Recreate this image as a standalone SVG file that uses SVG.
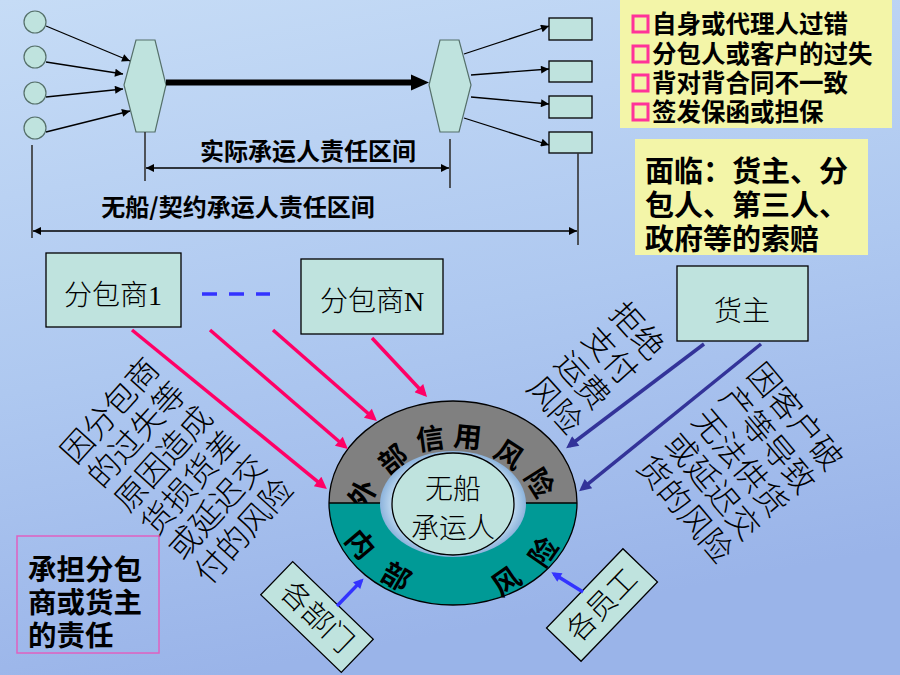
<svg xmlns="http://www.w3.org/2000/svg" width="900" height="675" viewBox="0 0 900 675">
<defs>
<linearGradient id="bg" x1="0" y1="0" x2="0.25" y2="1">
<stop offset="0" stop-color="#C6DCF6"/>
<stop offset="0.55" stop-color="#AEC8F0"/>
<stop offset="1" stop-color="#9AB4E9"/>
</linearGradient>
<radialGradient id="hole" cx="0.5" cy="0.5" r="0.5">
<stop offset="0.75" stop-color="#D8ECFA"/>
<stop offset="1" stop-color="#8CB3DC"/>
</radialGradient>
<marker id="ah" viewBox="0 0 10 10" refX="10" refY="5" markerUnits="userSpaceOnUse" markerWidth="10" markerHeight="8" orient="auto-start-reverse"><path d="M0,0L10,5L0,10z" fill="#000"/></marker>
<marker id="ahPink" viewBox="0 0 10 10" refX="7" refY="5" markerUnits="userSpaceOnUse" markerWidth="16" markerHeight="12" orient="auto"><path d="M0,0L10,5L0,10z" fill="#FF0066"/></marker>
<marker id="ahNavy" viewBox="0 0 10 10" refX="7" refY="5" markerUnits="userSpaceOnUse" markerWidth="16" markerHeight="12" orient="auto"><path d="M0,0L10,5L0,10z" fill="#333399"/></marker>
<marker id="ahBlue" viewBox="0 0 10 10" refX="7" refY="5" markerUnits="userSpaceOnUse" markerWidth="12" markerHeight="10" orient="auto"><path d="M0,0L10,5L0,10z" fill="#3333FF"/></marker>
<style>
.hei{font-family:"Noto Sans CJK SC","Liberation Sans",sans-serif;font-weight:700;fill:#000}
.song{font-family:"Liberation Serif","Noto Sans CJK SC",serif;font-weight:300;fill:#000}
.node{fill:#BFE3DE;stroke:#000;stroke-width:1.3}
.soft{fill:#BFE3DE;stroke:#55706A;stroke-width:1.2}
.thin{stroke:#000;stroke-width:1.3;fill:none}
.ext{stroke:#333;stroke-width:1.6;fill:none}
.pink{stroke:#FF0066;stroke-width:3.5;fill:none;marker-end:url(#ahPink)}
.navy{stroke:#333399;stroke-width:3.5;fill:none;marker-end:url(#ahNavy)}
.blue{stroke:#3333FF;stroke-width:3.5;fill:none;marker-end:url(#ahBlue)}
.yellow{fill:#F3F5A8}
.c{text-anchor:middle;dominant-baseline:central}
</style>
</defs>

<rect x="0" y="0" width="900" height="675" fill="url(#bg)"/>

<!-- top flow nodes -->
<g id="sources">
<circle class="soft" cx="35" cy="22" r="11"/>
<circle class="soft" cx="35" cy="57" r="11"/>
<circle class="soft" cx="35" cy="93" r="11"/>
<circle class="soft" cx="35" cy="128" r="11"/>
</g>
<g id="hex-left"><polygon class="soft" points="136,40 155,40 166,85 155,132 136,132 124,85"/></g>
<g id="hex-right"><polygon class="soft" points="440,40 459,40 471,85 459,132 440,132 429,85"/></g>
<g id="targets">
<rect class="node" x="549" y="18" width="43" height="22"/>
<rect class="node" x="549" y="61" width="43" height="21"/>
<rect class="node" x="549" y="96" width="43" height="22"/>
<rect class="node" x="549" y="132" width="43" height="21"/>
</g>

<!-- dimension lines -->
<g id="dimensions">
<line class="ext" x1="145" y1="132" x2="145" y2="181"/>
<line class="ext" x1="450" y1="139" x2="450" y2="188"/>
<line class="thin" x1="146" y1="168" x2="449" y2="168" marker-start="url(#ah)" marker-end="url(#ah)"/>
<line class="ext" x1="32" y1="145" x2="32" y2="238"/>
<line class="ext" x1="578" y1="153" x2="578" y2="245"/>
<line class="thin" x1="33" y1="231" x2="577" y2="231" marker-start="url(#ah)" marker-end="url(#ah)"/>
<text class="hei" x="308" y="160" font-size="24" text-anchor="middle">实际承运人责任区间</text>
<text class="hei" x="238" y="216" font-size="24" text-anchor="middle">无船/契约承运人责任区间</text>
</g>

<!-- yellow notes -->
<g id="note-errors">
<rect class="yellow" x="620" y="0" width="272" height="128"/>
<g fill="none" stroke="#FF3399" stroke-width="3">
<rect x="633" y="16" width="15" height="16"/>
<rect x="633" y="46" width="15" height="16"/>
<rect x="633" y="75" width="15" height="16"/>
<rect x="633" y="104" width="15" height="16"/>
</g>
<text class="hei" font-size="24.5" x="652" y="33">自身或代理人过错</text>
<text class="hei" font-size="24.5" x="652" y="63">分包人或客户的过失</text>
<text class="hei" font-size="24.5" x="652" y="92">背对背合同不一致</text>
<text class="hei" font-size="24.5" x="652" y="121">签发保函或担保</text>
</g>
<g id="note-claims">
<rect class="yellow" x="635" y="139" width="233" height="116"/>
<text class="hei" font-size="29" x="645" y="182">面临：货主、分</text>
<text class="hei" font-size="29" x="645" y="216">包人、第三人、</text>
<text class="hei" font-size="29" x="645" y="250">政府等的索赔</text>
</g>

<!-- parties -->
<g id="sub1">
<rect class="node" x="46" y="253" width="135" height="74"/>
<text class="song c" font-size="28" x="113" y="295">分包商1</text>
</g>
<g id="subN">
<rect class="node" x="301" y="259" width="142" height="75"/>
<text class="song c" font-size="28" x="372" y="301">分包商N</text>
</g>
<g id="owner">
<rect class="node" x="677" y="266" width="131" height="75"/>
<text class="song c" font-size="28" x="742" y="311">货主</text>
</g>

<!-- rotated captions -->
<g id="caption-sub" class="song c" font-size="32" transform="translate(177,471) rotate(-48)">
<text x="0" y="-90">因分包商</text>
<text x="0" y="-54">的过失等</text>
<text x="0" y="-18">原因造成</text>
<text x="0" y="18">货损货差</text>
<text x="0" y="54">或延迟交</text>
<text x="0" y="90">付的风险</text>
</g>
<g id="caption-refuse" class="song c" font-size="32" transform="translate(596,368) rotate(48)">
<text x="0" y="-55.5">拒绝</text>
<text x="0" y="-18.5">支付</text>
<text x="0" y="18.5">运费</text>
<text x="0" y="55.5">风险</text>
</g>
<g id="caption-owner" class="song c" font-size="32" transform="translate(740,463) rotate(50)">
<text x="0" y="-72">因客户破</text>
<text x="0" y="-36">产等导致</text>
<text x="0" y="0">无法供货</text>
<text x="0" y="36">或延迟交</text>
<text x="0" y="72">货的风险</text>
</g>

<!-- central ring -->
<g id="ring">
<path d="M329,503 A124,102 0 0 1 577,503 Z" fill="#808080"/>
<g class="hei c" font-size="28">
<text transform="translate(361,493) rotate(-62)">外</text>
<text transform="translate(392,458) rotate(-38)">部</text>
<text transform="translate(430,437) rotate(-8)">信</text>
<text transform="translate(468,435) rotate(6)">用</text>
<text transform="translate(510,453) rotate(33)">风</text>
<text transform="translate(541,482) rotate(58)">险</text>
</g>
<path d="M329,503 A124,102 0 0 0 577,503 Z" fill="#009A96"/>
<ellipse cx="453" cy="503" rx="124" ry="102" fill="none" stroke="#000" stroke-width="1.3"/>
<line x1="329" y1="503" x2="577" y2="503" stroke="#000" stroke-width="1.3"/>
<ellipse cx="453" cy="504" rx="73" ry="53" fill="url(#hole)"/>
<g class="hei c" font-size="28">
<text transform="translate(362,543) rotate(50)">内</text>
<text transform="translate(397,575) rotate(30)">部</text>
<text transform="translate(505,580) rotate(-35)">风</text>
<text transform="translate(542,551) rotate(-55)">险</text>
</g>
</g>
<g id="carrier">
<ellipse class="node" cx="453" cy="504" rx="61" ry="51"/>
<text class="song c" font-size="28" x="453" y="489">无船</text>
<text class="song c" font-size="28" x="453" y="528">承运人</text>
</g>

<g id="departments">
<g transform="translate(317,617) rotate(44)">
<rect class="node" x="-56" y="-23" width="112" height="46"/>
<text class="song c" font-size="29" x="0" y="0">各部门</text>
</g>
</g>
<g id="staff">
<g transform="translate(602,605) rotate(-46)">
<rect class="node" x="-55" y="-24" width="110" height="48"/>
<text class="song c" font-size="29" x="0" y="0">各员工</text>
</g>
</g>

<g id="note-liability">
<rect x="17" y="536" width="142" height="117" fill="none" stroke="#E060C0" stroke-width="1.5"/>
<text class="hei" font-size="28.5" x="28" y="580">承担分包</text>
<text class="hei" font-size="28.5" x="28" y="613">商或货主</text>
<text class="hei" font-size="28.5" x="28" y="646">的责任</text>
</g>

<!-- connectors -->
<g id="connectors">
<line class="thin" x1="46" y1="26" x2="130" y2="61" marker-end="url(#ah)"/>
<line class="thin" x1="46" y1="62" x2="123" y2="74" marker-end="url(#ah)"/>
<line class="thin" x1="46" y1="97" x2="123" y2="89" marker-end="url(#ah)"/>
<line class="thin" x1="46" y1="132" x2="130" y2="111" marker-end="url(#ah)"/>
<line x1="166" y1="82.5" x2="414" y2="82.5" stroke="#000" stroke-width="6"/>
<polygon points="411,74.5 429,82.5 411,90.5" fill="#000"/>
<line class="thin" x1="464" y1="54" x2="549" y2="26" marker-end="url(#ah)"/>
<line class="thin" x1="471" y1="75" x2="549" y2="69" marker-end="url(#ah)"/>
<line class="thin" x1="471" y1="97" x2="549" y2="104" marker-end="url(#ah)"/>
<line class="thin" x1="464" y1="118" x2="549" y2="145" marker-end="url(#ah)"/>
<line x1="202" y1="294" x2="270" y2="294" stroke="#3333FF" stroke-width="3.5" stroke-dasharray="15,12"/>
<line class="pink" x1="132" y1="330" x2="324.1" y2="486.8"/>
<line class="pink" x1="210" y1="330" x2="345.2" y2="446.7"/>
<line class="pink" x1="273" y1="330" x2="374.2" y2="418.7"/>
<line class="pink" x1="372" y1="338" x2="424.6" y2="394.3"/>
<line class="navy" x1="704" y1="344" x2="569" y2="446"/>
<line class="navy" x1="761" y1="344" x2="581.9" y2="488.9"/>
<line class="blue" x1="337" y1="606" x2="361.5" y2="580.6"/>
<line class="blue" x1="583" y1="592" x2="553.9" y2="573.9"/>
</g>
</svg>
